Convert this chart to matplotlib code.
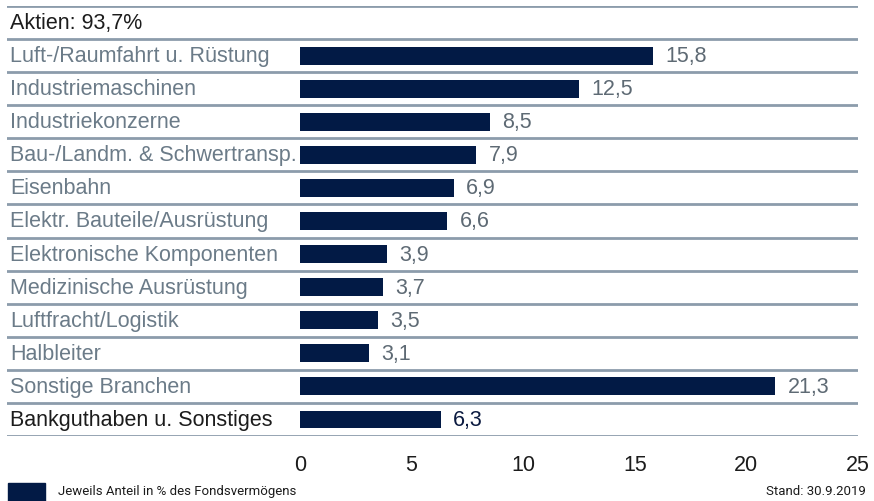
import numpy as np
import matplotlib.pyplot as plt
from matplotlib.patches import Rectangle

plt.rcParams['font.family'] = ['Liberation Sans', 'DejaVu Sans']

# data
header = "Aktien: 93,7%"
categories = ["Luft-/Raumfahrt u. Rüstung", "Industriemaschinen", "Industriekonzerne",
              "Bau-/Landm. & Schwertransp.", "Eisenbahn", "Elektr. Bauteile/Ausrüstung",
              "Elektronische Komponenten", "Medizinische Ausrüstung", "Luftfracht/Logistik",
              "Halbleiter", "Sonstige Branchen", "Bankguthaben u. Sonstiges"]
values = [15.8, 12.5, 8.5, 7.9, 6.9, 6.6, 3.9, 3.7, 3.5, 3.1, 21.3, 6.3]
value_labels = ["15,8", "12,5", "8,5", "7,9", "6,9", "6,6", "3,9", "3,7", "3,5", "3,1", "21,3", "6,3"]
xticks = [0, 5, 10, 15, 20, 25]

navy = "#021a45"
line_col = "#8c9cab"
cat_col = "#6b7b88"
dark = "#1c1c1c"

W, H = 874, 502
fig = plt.figure(figsize=(W / 100, H / 100), dpi=100)
x0, x1 = 7, 858
y0, y1 = 7, 437
ax = fig.add_axes([x0 / W, 1 - y1 / H, (x1 - x0) / W, (y1 - y0) / H])

px_per_unit = (x1 - 300) / 25.0
ax.set_xlim(-(300 - x0) / px_per_unit, 25)
n_rows = len(categories) + 1
ax.set_ylim(n_rows - 0.5, -0.5)

ypos = np.arange(1, n_rows)
ax.barh(ypos, values, height=0.54, color=navy, left=0)

for k in range(n_rows + 1):
    ax.axhline(k - 0.5, color=line_col, lw=2)

fs = 15.5
tr = ax.get_yaxis_transform()
ax.text(0.004, 0, header, transform=tr, ha='left', va='center', fontsize=fs, color=dark)
for i, (c, v, vl) in enumerate(zip(categories, values, value_labels)):
    last = i == len(categories) - 1
    ax.text(0.004, ypos[i], c, transform=tr, ha='left', va='center', fontsize=fs,
            color=dark if last else cat_col)
    ax.text(v + 0.55, ypos[i], vl, ha='left', va='center', fontsize=fs,
            color="#0b1a40" if last else "#5e6a74")

ax.set_xticks(xticks)
ax.set_xticklabels([str(t) for t in xticks], fontsize=fs, color=dark)
ax.tick_params(axis='x', length=0, pad=13)
ax.set_yticks([])
for s in ax.spines.values():
    s.set_visible(False)

fig.patches.append(Rectangle((8 / W, 0), 37 / W, 18 / H, transform=fig.transFigure,
                             color=navy))
fig.text(58 / W, 1 - 492 / H, "Jeweils Anteil in % des Fondsvermögens", fontsize=9.5,
         color=dark, ha='left', va='center', family='Roboto')
fig.text(866 / W, 1 - 492 / H, "Stand: 30.9.2019", fontsize=9.5, color=dark,
         ha='right', va='center', family='Roboto')

fig.savefig("out.png", dpi=100)
